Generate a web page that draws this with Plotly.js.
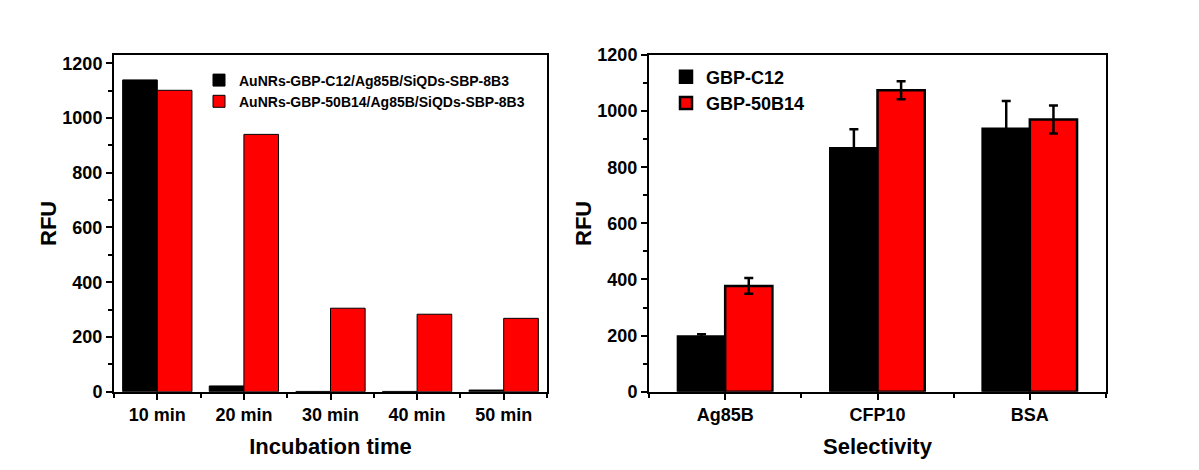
<!DOCTYPE html>
<html>
<head>
<meta charset="utf-8">
<script src="https://cdn.plot.ly/plotly-3.0.1.min.js"></script>
<style>html,body{margin:0;padding:0;background:#fff;}#chart{width:1199px;height:470px;}</style>
</head>
<body>
<div id="chart"></div>
<script>
// ---- Data (left panel) ----
const timeCategories = ["10 min", "20 min", "30 min", "40 min", "50 min"];
const seriesC12Name = "AuNRs-GBP-C12/Ag85B/SiQDs-SBP-8B3";
const series50B14Name = "AuNRs-GBP-50B14/Ag85B/SiQDs-SBP-8B3";
const timeC12 = [1139, 21, 1, 1, 6];
const time50B14 = [1101, 940, 305, 283, 268];

// ---- Data (right panel) ----
const targetCategories = ["Ag85B", "CFP10", "BSA"];
const selC12Name = "GBP-C12";
const sel50B14Name = "GBP-50B14";
const selC12 = [197, 868, 937];
const selC12Err = [8, 67, 99];
const sel50B14 = [377, 1074, 970];
const sel50B14Err = [28, 32, 50];

const FONT = "Liberation Sans, Arial, sans-serif";
const idx = a => a.map((_, i) => i);

const traces = [
  {type: "bar", name: seriesC12Name, x: idx(timeCategories), y: timeC12,
   width: 0.4, offset: -0.4, xaxis: "x", yaxis: "y", legend: "legend",
   marker: {color: "#000000", line: {color: "#000000", width: 1}}},
  {type: "bar", name: series50B14Name, x: idx(timeCategories), y: time50B14,
   width: 0.4, offset: 0, xaxis: "x", yaxis: "y", legend: "legend",
   marker: {color: "#ff0000", line: {color: "#000000", width: 1}}},
  {type: "bar", name: selC12Name, x: idx(targetCategories), y: selC12,
   width: 0.31, offset: -0.31, xaxis: "x2", yaxis: "y2", legend: "legend2",
   error_y: {type: "data", array: selC12Err, visible: true, color: "#000000", thickness: 2.5, width: 4.5},
   marker: {color: "#000000", line: {color: "#000000", width: 2.5}}},
  {type: "bar", name: sel50B14Name, x: idx(targetCategories), y: sel50B14,
   width: 0.31, offset: 0, xaxis: "x2", yaxis: "y2", legend: "legend2",
   error_y: {type: "data", array: sel50B14Err, visible: true, color: "#000000", thickness: 2.5, width: 4.5},
   marker: {color: "#ff0000", line: {color: "#000000", width: 2.5}}}
];

const axisCommon = {
  showline: true, linecolor: "#000", linewidth: 2, mirror: true,
  ticks: "outside", ticklen: 6, tickwidth: 2, tickcolor: "#000",
  showgrid: false, zeroline: false, fixedrange: true,
  tickfont: {family: FONT, size: 18, color: "#000", weight: "bold"}
};

const layout = {
  width: 1199, height: 470,
  margin: {l: 0, r: 0, t: 0, b: 0},
  paper_bgcolor: "#fff", plot_bgcolor: "#fff",
  font: {family: FONT, color: "#000", weight: "bold"},
  barmode: "overlay",
  showlegend: true,
  xaxis: Object.assign({}, axisCommon, {
    domain: [114/1199, 547/1199], anchor: "y",
    range: [-0.5, 4.5], tickmode: "array",
    tickvals: idx(timeCategories), ticktext: timeCategories,
    minor: {tick0: -0.5, dtick: 1, ticks: "outside", ticklen: 4, tickwidth: 2, tickcolor: "#000"},
    title: {text: "Incubation time", standoff: 14, font: {family: FONT, size: 22, color: "#000", weight: "bold"}}
  }),
  yaxis: Object.assign({}, axisCommon, {
    domain: [1 - 391.7/470, 1 - 55/470], anchor: "x",
    range: [0, 1230], dtick: 200, tick0: 0,
    minor: {dtick: 100, ticks: "outside", ticklen: 4, tickwidth: 2, tickcolor: "#000"},
    title: {text: "RFU", standoff: 0, font: {family: FONT, size: 22, color: "#000", weight: "bold"}}
  }),
  xaxis2: Object.assign({}, axisCommon, {
    domain: [649/1199, 1106/1199], anchor: "y2",
    range: [-0.5, 2.5], tickmode: "array",
    tickvals: idx(targetCategories), ticktext: targetCategories,
    minor: {tick0: -0.5, dtick: 1, ticks: "outside", ticklen: 4, tickwidth: 2, tickcolor: "#000"},
    title: {text: "Selectivity", standoff: 14, font: {family: FONT, size: 22, color: "#000", weight: "bold"}}
  }),
  yaxis2: Object.assign({}, axisCommon, {
    domain: [1 - 391.7/470, 1 - 55/470], anchor: "x2",
    range: [0, 1200], dtick: 200, tick0: 0,
    minor: {dtick: 100, ticks: "outside", ticklen: 4, tickwidth: 2, tickcolor: "#000"},
    title: {text: "RFU", standoff: 0, font: {family: FONT, size: 22, color: "#000", weight: "bold"}}
  }),
  legend: {
    x: 199/1199, y: 1 - 64.5/470, xanchor: "left", yanchor: "top",
    bgcolor: "rgba(0,0,0,0)", borderwidth: 0,
    font: {family: FONT, size: 14, color: "#000", weight: "bold"},
    tracegroupgap: 0, itemclick: false, itemdoubleclick: false
  },
  legend2: {
    x: 666/1199, y: 1 - 58.5/470, xanchor: "left", yanchor: "top",
    bgcolor: "rgba(0,0,0,0)", borderwidth: 0,
    font: {family: FONT, size: 18, color: "#000", weight: "bold"},
    tracegroupgap: 0, itemclick: false, itemdoubleclick: false
  }
};

Plotly.newPlot("chart", traces, layout, {displayModeBar: false, staticPlot: true});
</script>
</body>
</html>
